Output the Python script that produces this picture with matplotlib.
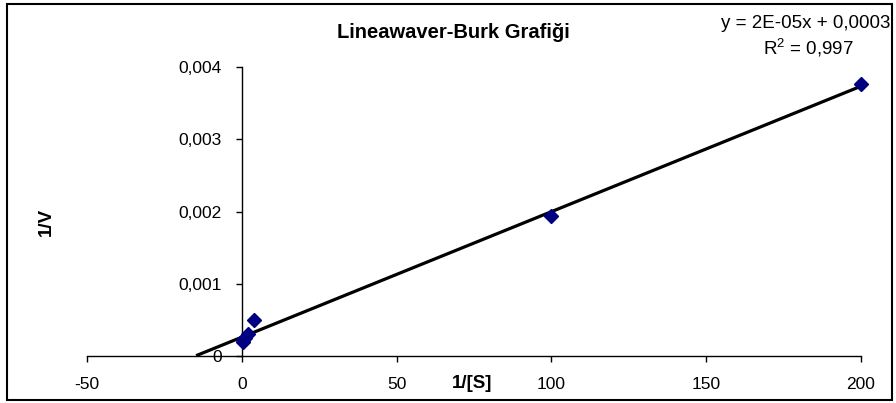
import matplotlib
matplotlib.use("Agg")
import matplotlib.pyplot as plt
import numpy as np
from matplotlib.patches import Rectangle

plt.rcParams['font.family'] = ['Liberation Sans', 'DejaVu Sans']

# Data (1/[S], 1/V)
inv_s = [200, 100, 4, 2, 1, 0.5, 0.25]
inv_v = [0.00376, 0.00194, 0.0005, 0.0003, 0.00025, 0.00022, 0.0002]

xticks = [-50, 0, 50, 100, 150, 200]
xticklabels = ['-50', '0', '50', '100', '150', '200']
yticks = [0, 0.001, 0.002, 0.003, 0.004]
yticklabels = ['0', '0,001', '0,002', '0,003', '0,004']

title = "Lineawaver-Burk Grafiği"
eq_line1 = "y = 2E-05x + 0,0003"
eq_line2 = "$\\mathregular{R^2}$ = 0,997"
backward_forecast = 15

fig = plt.figure(figsize=(8.96, 4.03), dpi=100)
fig.patches.append(Rectangle((7/896, 3/403), 885/896, 396/403, transform=fig.transFigure,
                             fill=False, edgecolor='black', linewidth=1.5))
ax = fig.add_axes([87/896, (403-356)/403, 774/896, 289/403])

x = np.array(inv_s)
y = np.array(inv_v)
slope, intercept = np.polyfit(x, y, 1)
xl = np.array([x.min() - backward_forecast, x.max()])
ax.plot(xl, slope * xl + intercept, color='black', lw=2.3, solid_capstyle='butt', zorder=2,
        clip_on=False)
ax.plot(x, y, linestyle='none', marker='D', color='#000080', markersize=7, zorder=3,
        clip_on=False)

ax.set_xlim(-50, 200)
ax.set_ylim(0, 0.004)
ax.spines['top'].set_visible(False)
ax.spines['right'].set_visible(False)
ax.spines['left'].set_position(('data', 0))
for s in ('left', 'bottom'):
    ax.spines[s].set_linewidth(1.0)
ax.set_xticks(xticks)
ax.set_xticklabels(xticklabels)
ax.set_yticks(yticks)
ax.set_yticklabels(yticklabels)
ax.tick_params(axis='both', direction='out', length=4.3, width=1.0, labelsize=12.5)
ax.tick_params(axis='x', pad=11)
ax.tick_params(axis='y', pad=10)

fig.text(453/896, 1 - 33/403, title, ha='center', va='center', fontsize=14.5, fontweight='bold')
fig.text(806/896, 1 - 23/403, eq_line1, ha='center', va='center', fontsize=13.5)
fig.text(808/896, 1 - 48/403, eq_line2, ha='center', va='center', fontsize=13.5)
fig.text(46/896, 1 - 222/403, "1/V", rotation=90, ha='center', va='center', fontsize=13.5, fontweight='bold')
fig.text(472/896, 1 - 383/403, "1/[S]", ha='center', va='center', fontsize=13.5, fontweight='bold')

fig.savefig("out.png", dpi=100)
